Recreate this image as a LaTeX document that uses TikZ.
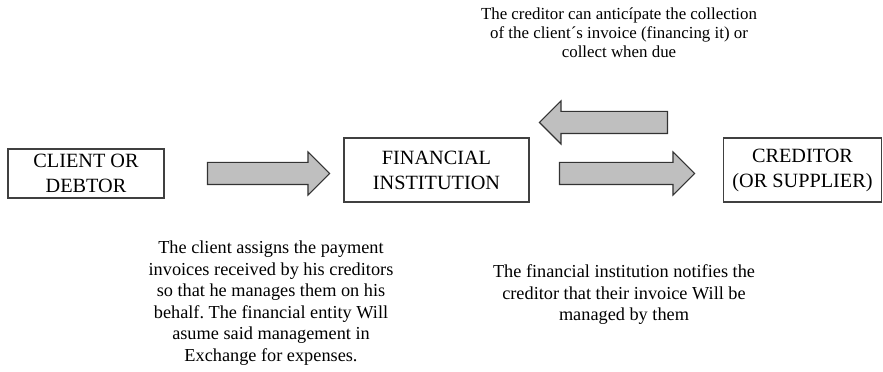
\documentclass[tikz,border=0pt]{standalone}
\usepackage{fontspec}
\setmainfont{Liberation Serif}
\usetikzlibrary{shapes.arrows}
\frenchspacing

\begin{document}
\begin{tikzpicture}[x=0.025cm, y=-0.025cm,
  party/.style={draw=black!75, line width=0.8pt, align=center,
                font=\fontsize{14.4}{17.8}\selectfont, inner sep=0pt},
  fat/.style={single arrow, draw=black!80, fill=gray!50, line width=0.8pt,
              inner sep=0.2625cm, single arrow head extend=0.2625cm,
              single arrow tip angle=90, anchor=center},
  note/.style={align=center, font=\fontsize{13}{15.3}\selectfont},
  ]
  \useasboundingbox (0,0) rectangle (883,372);
  % parties
  \node[party, minimum width=3.9cm, minimum height=1.225cm] (cl) at (86,173.5) {CLIENT OR\\DEBTOR};
  \node[party, minimum width=4.625cm, minimum height=1.6cm] (fi) at (436.5,170) {FINANCIAL\\INSTITUTION};
  \node[party, minimum width=3.96cm, minimum height=1.6cm] (cr) at (802.5,170) {CREDITOR\\(OR SUPPLIER)};
  % block arrows
  \node[fat, minimum height=3.05cm] (a1) at (263,173.5) {};
  \node[fat, minimum height=3.2cm, shape border rotate=180] (a2) at (609,122.5) {};
  \node[fat, minimum height=3.375cm] (a3) at (621.5,173.5) {};
  % notes
  \node[note, font=\fontsize{12}{13.6}\selectfont] (t1) at (619,33) {The creditor can anticípate the collection\\of the client´s invoice (financing it) or\\collect when due};
  \node[note] (t2) at (271,303) {The client assigns the payment\\invoices received by his creditors\\so that he manages them on his\\behalf. The financial entity Will\\asume said management in\\Exchange for expenses.};
  \node[note] (t3) at (624,295) {The financial institution notifies the\\creditor that their invoice Will be\\managed by them};
\end{tikzpicture}
\end{document}
